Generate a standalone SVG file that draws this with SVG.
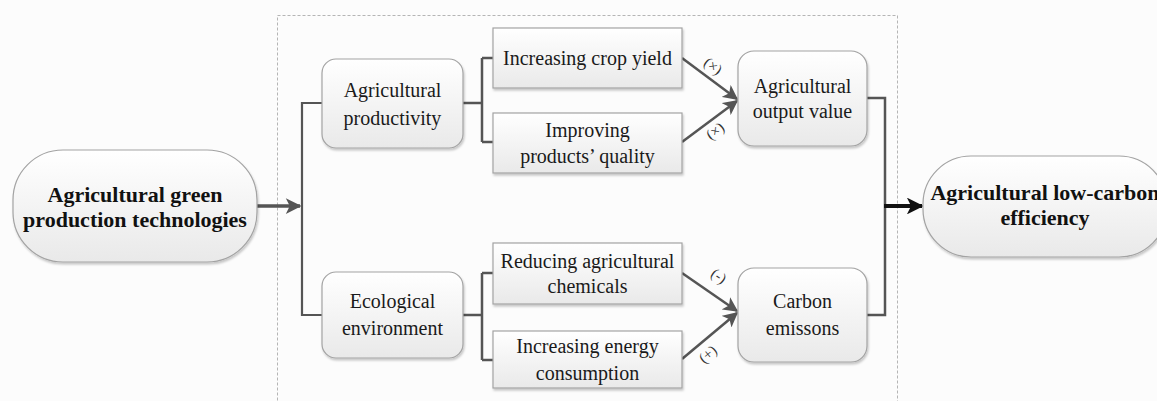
<svg xmlns="http://www.w3.org/2000/svg" width="1157" height="401" viewBox="0 0 1157 401">
  <defs>
    <linearGradient id="boxFill" x1="0" y1="0" x2="0" y2="1">
      <stop offset="0" stop-color="#ffffff"/>
      <stop offset="1" stop-color="#e9e9e9"/>
    </linearGradient>
    <filter id="shadow" x="-10%" y="-10%" width="120%" height="125%">
      <feDropShadow dx="1" dy="2" stdDeviation="1.2" flood-color="#000" flood-opacity="0.22"/>
    </filter>
    <marker id="arrowGrey" viewBox="0 0 10 10" refX="9" refY="5" markerWidth="6" markerHeight="6" orient="auto" markerUnits="strokeWidth">
      <path d="M0,0 L10,5 L0,10 L2.5,5 Z" fill="#555"/>
    </marker>
    <marker id="arrowMain" viewBox="0 0 10 10" refX="9" refY="5" markerWidth="5" markerHeight="4.5" orient="auto" markerUnits="strokeWidth">
      <path d="M0,0 L10,5 L0,10 L2.5,5 Z" fill="#555"/>
    </marker>
    <marker id="arrowDark" viewBox="0 0 10 10" refX="9" refY="5" markerWidth="4.5" markerHeight="4.2" orient="auto" markerUnits="strokeWidth">
      <path d="M0,0 L10,5 L0,10 L2.5,5 Z" fill="#111"/>
    </marker>
  </defs>
  <style>
    .box { fill: url(#boxFill); stroke: #a3a3a3; stroke-width: 1.2; filter: url(#shadow); }
    .t { font-family: "Liberation Serif", "Times New Roman", serif; font-size: 20px; fill: #1a1a1a; text-anchor: middle; }
    .tb { font-family: "Liberation Serif", "Times New Roman", serif; font-size: 22px; font-weight: bold; fill: #111; text-anchor: middle; }
    .sign { font-family: "Liberation Serif", "Times New Roman", serif; font-size: 15px; fill: #333; text-anchor: middle; }
    .wire { fill: none; stroke: #555; stroke-width: 2.5; }
    .frame { fill: none; stroke: #b5b5b5; stroke-width: 1; stroke-dasharray: 3 2; }
  </style>

  <rect width="1157" height="401" fill="#fcfcfc"/>

  <!-- dashed frame around the mechanism -->
  <rect class="frame" x="277.5" y="15.5" width="620" height="400"/>

  <!-- connectors -->
  <g id="connectors">
    <path class="wire" d="M257,206 H300" style="stroke-width:3.5" marker-end="url(#arrowMain)"/>
    <path class="wire" d="M322,103 H302 V315 H322" style="stroke-width:2.2"/>
    <path class="wire" d="M463,103 H482 M482,58 V142 M482,58 H493 M482,142 H493"/>
    <path class="wire" d="M463,315 H482 M482,273 V360 M482,273 H493 M482,360 H493"/>
    <path class="wire" d="M682,58 L737,99" marker-end="url(#arrowGrey)"/>
    <path class="wire" d="M682,142 L737,101" marker-end="url(#arrowGrey)"/>
    <path class="wire" d="M682,273 L737,311" marker-end="url(#arrowGrey)"/>
    <path class="wire" d="M682,359 L737,313" marker-end="url(#arrowGrey)"/>
    <path class="wire" d="M867,98 H885 V315 H867"/>
    <path d="M884,206 H922" fill="none" stroke="#111" stroke-width="4" marker-end="url(#arrowDark)"/>
    <!-- effect signs on the arrows -->
    <text class="sign" transform="translate(710,70) rotate(37)">(×)</text>
    <text class="sign" transform="translate(718,135) rotate(-37)">(×)</text>
    <text class="sign" transform="translate(716,280) rotate(35)">(-)</text>
    <text class="sign" transform="translate(711,358) rotate(-40)">(+)</text>
  </g>

  <g id="green-tech">
    <rect class="box" x="13" y="150" width="244" height="112" rx="50" ry="50"/>
    <text class="tb" x="135" y="202">Agricultural green</text>
    <text class="tb" x="135" y="227">production technologies</text>
  </g>

  <g id="productivity">
    <rect class="box" x="322" y="59" width="141" height="89" rx="14" ry="14"/>
    <text class="t" x="392.5" y="97">Agricultural</text>
    <text class="t" x="392.5" y="125">productivity</text>
  </g>

  <g id="environment">
    <rect class="box" x="322" y="272" width="141" height="86" rx="14" ry="14"/>
    <text class="t" x="392.5" y="308">Ecological</text>
    <text class="t" x="392.5" y="335">environment</text>
  </g>

  <g id="crop-yield">
    <rect class="box" x="493" y="28" width="189" height="60"/>
    <text class="t" x="587.5" y="65">Increasing crop yield</text>
  </g>

  <g id="quality">
    <rect class="box" x="493" y="113" width="189" height="60"/>
    <text class="t" x="587.5" y="137">Improving</text>
    <text class="t" x="587.5" y="163">products’ quality</text>
  </g>

  <g id="chemicals">
    <rect class="box" x="493" y="243" width="189" height="61"/>
    <text class="t" x="587.5" y="268">Reducing agricultural</text>
    <text class="t" x="587.5" y="293">chemicals</text>
  </g>

  <g id="energy">
    <rect class="box" x="493" y="331" width="189" height="57"/>
    <text class="t" x="587.5" y="353">Increasing energy</text>
    <text class="t" x="587.5" y="380">consumption</text>
  </g>

  <g id="output-value">
    <rect class="box" x="738" y="51" width="129" height="95" rx="16" ry="16"/>
    <text class="t" x="802.5" y="93">Agricultural</text>
    <text class="t" x="802.5" y="118">output value</text>
  </g>

  <g id="carbon-emissions">
    <rect class="box" x="738" y="268" width="129" height="94" rx="16" ry="16"/>
    <text class="t" x="802.5" y="308">Carbon</text>
    <text class="t" x="802.5" y="335">emissons</text>
  </g>

  <g id="low-carbon">
    <rect class="box" x="923" y="156" width="244" height="101" rx="48" ry="48"/>
    <text class="tb" x="1045" y="200">Agricultural low-carbon</text>
    <text class="tb" x="1045" y="225">efficiency</text>
  </g>
</svg>
